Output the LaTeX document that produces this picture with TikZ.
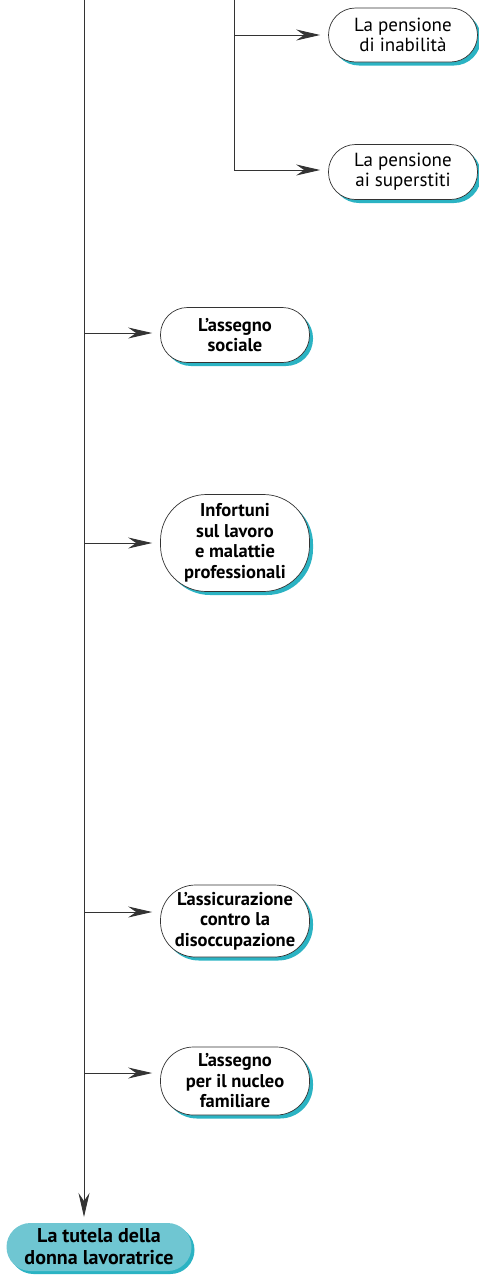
\documentclass[tikz,border=0pt]{standalone}
\usepackage{fontspec}
\setmainfont{PT Sans}
\usetikzlibrary{arrows.meta,shadows,calc}
\definecolor{shadowteal}{HTML}{2BB3C3}
\definecolor{filllight}{HTML}{6FC6D2}
\definecolor{linegray}{HTML}{333333}
\tikzset{
  tip/.style={-{Stealth[length=24pt,width=11pt,inset=8pt]}},
  conn/.style={draw=linegray, line width=0.9pt},
  arr/.style={conn, tip, shorten >=8pt},
  pill/.style={draw=linegray, line width=0.7pt, fill=white, align=center,
    minimum width=149pt, inner sep=0pt,
    drop shadow={shadow xshift=3.5pt, shadow yshift=-3.5pt, fill=shadowteal, opacity=1},
    font=\fontsize{19}{20}\selectfont},
  boldpill/.style={pill, font=\fontsize{18.5}{20.5}\selectfont\bfseries},
}
\begin{document}
\begin{tikzpicture}[x=1pt,y=-1pt]
\useasboundingbox (0,0) rectangle (479,1278);
% nodes
\node[pill, minimum height=54pt, rounded corners=27pt] (n1) at (403,35) {La pensione\\di inabilità};
\node[pill, minimum height=55pt, rounded corners=27pt] (n2) at (403,172) {La pensione\\ai superstiti};
\node[boldpill, minimum height=55pt, rounded corners=27pt] (n3) at (235,335) {L’assegno\\sociale};
\node[boldpill, minimum height=97pt, rounded corners=46pt] (n4) at (235,543) {Infortuni\\sul lavoro\\e malattie\\professionali};
\node[boldpill, minimum height=72pt, rounded corners=35pt] (n5) at (235,921) {L’assicurazione\\contro la\\disoccupazione};
\node[boldpill, minimum height=68pt, rounded corners=33pt] (n6) at (235,1081) {L’assegno\\per il nucleo\\familiare};
\node[draw=none, fill=filllight, align=center, minimum width=185pt, minimum height=48pt,
  rounded corners=24pt, inner sep=0pt,
  drop shadow={shadow xshift=3pt, shadow yshift=-3pt, fill=shadowteal, opacity=1},
  font=\fontsize{20}{22}\selectfont\bfseries] (n7) at (99,1247) {La tutela della\\donna lavoratrice};
% coordinates
\coordinate (top) at (84,0);
\coordinate (mainend) at (84,1217);
\coordinate (stop) at (234,0);
\coordinate (s1) at (234,35);
\coordinate (s2) at (234,170);
\coordinate (b3) at (84,333);
\coordinate (b4) at (84,543);
\coordinate (b5) at (84,912);
\coordinate (b6) at (84,1073);
% connectors
\draw[conn, tip] (top) -- (mainend);
\draw[conn] (stop) -- (s2);
\draw[arr] (s1) -- (s1 -| n1.west);
\draw[arr] (s2) -- (s2 -| n2.west);
\draw[arr] (b3) -- (b3 -| n3.west);
\draw[arr] (b4) -- (b4 -| n4.west);
\draw[arr] (b5) -- (b5 -| n5.west);
\draw[arr] (b6) -- (b6 -| n6.west);
\end{tikzpicture}
\end{document}
